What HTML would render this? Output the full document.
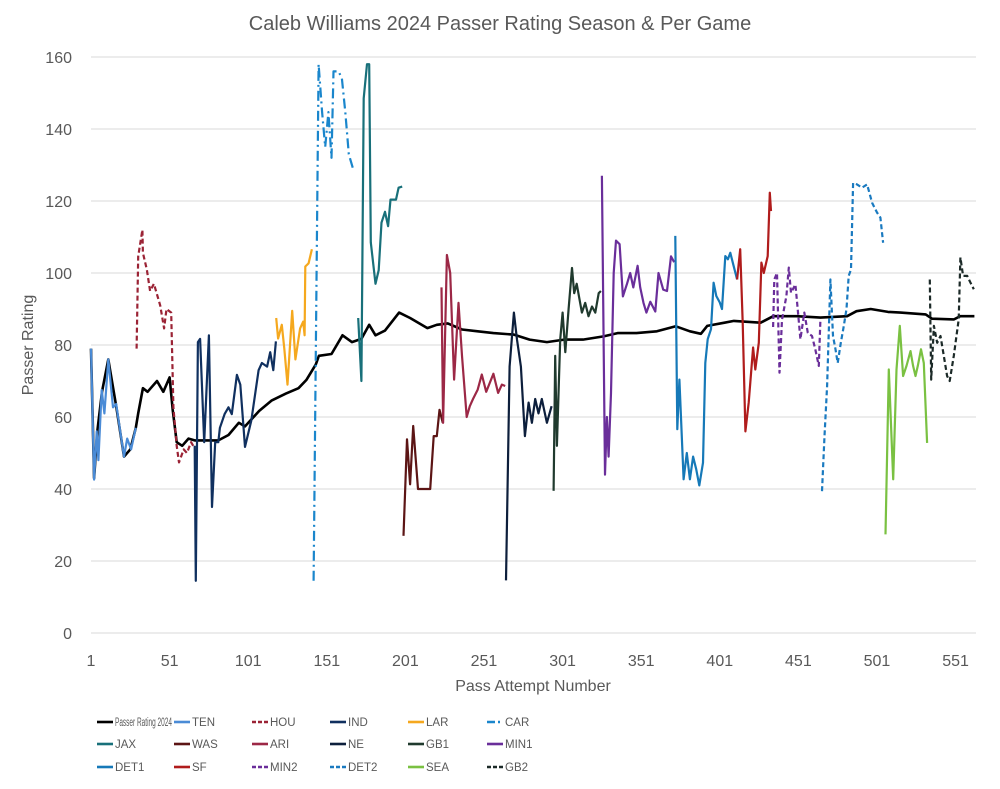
<!DOCTYPE html>
<html><head><meta charset="utf-8">
<style>
html,body{margin:0;padding:0;background:#fff;}
body{width:1000px;height:784px;overflow:hidden;font-family:"Liberation Sans",sans-serif;}
svg text{font-family:"Liberation Sans",sans-serif;}
</style></head>
<body>
<svg id="chart" width="1000" height="784" viewBox="0 0 1000 784" xmlns="http://www.w3.org/2000/svg">
<rect x="0" y="0" width="1000" height="784" fill="#fff"/>
<text x="500" y="30" text-anchor="middle" font-size="20" fill="#595959">Caleb Williams 2024 Passer Rating Season &amp; Per Game</text>
<g id="grid"></g>
<g id="yticks"></g>
<g id="xticks"></g>
<g id="series"></g>
<g id="legend"></g>
<text transform="translate(33,345) rotate(-90)" text-anchor="middle" font-size="16" fill="#595959">Passer Rating</text>
<text x="533" y="691" text-anchor="middle" font-size="16" fill="#595959">Pass Attempt Number</text>
</svg>
<script>
const xTicks = [1,51,101,151,201,251,301,351,401,451,501,551];
const yTicks = [0,20,40,60,80,100,120,140,160];
const seriesNames = ["Passer Rating 2024","TEN","HOU","IND","LAR","CAR","JAX","WAS","ARI","NE","GB1","MIN1","DET1","SF","MIN2","DET2","SEA","GB2"];

const SEASON_n = [1,3,5,8,12,17,22,26,29.5,31,34,37,39,43,47,51,53,55.5,59,63,67,74,82,88.5,95,99,108,116,125,133,138,144,146,154,161,167,173,178,182,188,197,204,215,221,228,237,247,257,270,280,291,302,314,327,336,348,361,373,382,389,393,404,410,427,435,450,465,482,488,497,508,516,532,536,550,554,563];
const SEASON_v = [79,43,56,67,76,63,49,51,57,61,68,67,68,70,67,71,62,53,52,54,53.5,53.5,53.5,55,58.4,57.4,61.7,64.6,66.5,68,70.3,74.6,77,77.5,82.7,80.8,81.7,85.6,82.7,84,89,87.5,84.7,85.6,86,84.3,83.8,83.3,82.9,81.5,80.8,81.5,81.5,82.4,83.3,83.3,83.8,85.2,83.8,83.1,85.3,86.2,86.7,86.2,88,88,87.6,88,89.4,90,89.2,89,88.5,87.3,87.1,88,88];

const TEN_n = [1,3,4.6,5.7,7.8,9.5,12,15,17,22,24,26.5,29.5];
const TEN_v = [79,42.6,56,48,67.5,61,76,62.7,63.6,49,54,51,57];
const HOU_n = [30,31,33.7,34,36.5,38.6,41,45,47.5,49,52,53.4,55.5,57,60,62,64.7,66];
const HOU_v = [79,104.6,112,105.6,101,95,97,91,84.6,90,89,62.7,52,47.4,51,50,53,52];
const IND_n = [67,67.7,69,70.4,73,76,78,80,82,83,86,88.5,90.6,92,93.8,96,99,103,107.6,109.7,113,115,117,118.6];
const IND_v = [52,14.5,80.8,81.7,53,82.7,35,53,53,57,60.8,62.7,60.8,65.5,71.7,69,51.7,59,73,75,74,78,73,81];
const LAR_n = [118.8,120,122.4,124,126,129,131,134,136,136.9,137.3,139.4,141.5];
const LAR_v = [87.5,81.8,85.6,79,69,89.5,76,84.6,86.5,82.7,101.8,102.7,106.6];
const CAR_n = [142.6,145.8,148,150,152,154,155.3,158.5,160.6,162.8,165,168];
const CAR_v = [14.5,158,144.7,135,144.7,132,156,156,154,144.7,133,128.5];
const JAX_n = [171,173,174.5,176.6,178,179,182,184,185.8,188,190,191.5,195,196.7,199];
const JAX_v = [87.5,70,148.5,158,158,108.5,97,100.8,114,117,113,120.4,120.4,123.7,124];
const WAS_n = [199.8,202,204,206,209,216.8,219,221,222.7,224.8];
const WAS_v = [27,53.8,41.3,57.5,40,40,54.7,54.7,62,58.4];
const ARI_n = [224,225,227.4,229.5,232,234.8,237,240,242,244,247,249.6,252.4,257,260,262.4,264.5];
const ARI_v = [96,58.4,105,100,70.4,91.7,77,60,63,65,67.6,71.8,67,72,66.7,69,68.6];
const NE_n = [265,267.3,270,272,274.5,277,279.4,281.5,283.6,285.7,287.8,291,294];
const NE_v = [14.6,74,89,81.5,74,54.7,64,58.4,65,61,65,58.4,63];
const GB1_n = [295.3,296.3,297.4,299.5,301,302.7,304.8,307,308.4,310,313.3,315.4,317.5,319.7,321.8,324,325.4];
const GB1_v = [39.5,77,52,81.5,89,78,90,101.4,94.4,97,89,91.7,88,90.7,89,94.4,95];
const MIN1_n = [326,328,329.2,330.3,331.8,333.5,335,337.3,339.4,342,344,346,348.7,350.4,352.5,354.3,356.8,360,362,365,367.4,370,372];
const MIN1_v = [127,44,60,49,66.7,100,109,108,93.5,97,100,96,102,96,91.7,89,92,89.3,100,95.4,95,104.6,103];
const DET1_n = [372.7,374,375.3,378,380,382,384,386,388,390.3,391.8,393.3,395.4,397.1,398.8,401,402.4,404.5,406.2,407.7,409.8,412];
const DET1_v = [110.3,56.6,70.4,42.7,50,42.7,49,45.5,41,47.3,75,81.6,84.4,97.3,93.6,91.8,90,104.7,103.8,105.6,102,98.2];
const SF_n = [412,414,415.6,417.3,419.4,422.2,423.6,425.8,427.5,429,431.5,432.8,433.6];
const SF_v = [98.2,106.6,86.2,56,64,79.3,73.2,80.6,102.9,100,104.7,122.3,117.2];
const MIN2_n = [434.9,435.7,437.4,439,440.6,443.4,444.9,446.3,449.1,450.6,452.3,454.8,457,459.7,461.8,464,465];
const MIN2_v = [85,98.2,100,72.3,87,93.6,101.5,94.5,96.8,90,81.6,89,83.4,82.5,78.8,74.2,87];
const DET2_n = [466,467.6,469.3,471.4,473,474.6,476,478,479.9,481.6,483,484.5,485.8,488.3,491.5,494.7,497.9,501,503.2,504.9];
const DET2_v = [39.4,54.7,68.6,98.2,82.5,78.8,75,80.6,85.3,90,99.2,101,125,124.6,123.7,124.6,119.5,116.8,115.4,108.4];
const SEA_n = [506.4,508.5,511.3,513.4,515.5,517.6,519.8,522.3,524,525.5,527,529,530.8,532.9];
const SEA_v = [27.4,73.2,42.7,73.2,85.3,71.4,74.2,78.3,74.2,71.4,74.2,78.8,75,52.8];
const GB2_n = [534.6,535.5,537.2,539.3,541.4,543.5,545.6,547.3,549.9,553,554.1,555.8,558.4,560.5,562.6];
const GB2_v = [98.2,70.4,85.3,80.6,82.5,77,71.4,70,77,87.1,104.3,99.2,99.2,97.3,95.5];

const NS="http://www.w3.org/2000/svg";
const X0=91, X1=976, NMIN=1, NMAX=564, Y0=633, Y1=57, VMAX=160;
function xs(n){return X0+(n-NMIN)/(NMAX-NMIN)*(X1-X0);}
function ys(v){return Y0-v/VMAX*(Y0-Y1);}
function mk(tag,attrs,parent){const e=document.createElementNS(NS,tag);for(const k in attrs)e.setAttribute(k,attrs[k]);parent.appendChild(e);return e;}

const grid=document.getElementById('grid'), yt=document.getElementById('yticks'), xt=document.getElementById('xticks');
yTicks.forEach(v=>{
  const l=mk('line',{x1:X0,x2:X1,y1:ys(v),y2:ys(v),stroke:'#d9d9d9','stroke-width':1},grid);
  
  
  const t=mk('text',{x:72,y:ys(v)+6,'text-anchor':'end','font-size':16,fill:'#595959'},yt);
  t.textContent=v;
  
  
});
xTicks.forEach(n=>{
  const t=mk('text',{x:xs(n),y:666,'text-anchor':'middle','font-size':16,fill:'#595959'},xt);
  t.textContent=n;
  
  
});

const styles = [
 {n:SEASON_n,v:SEASON_v,c:'#000000',d:'',w:2.6},
 {n:TEN_n,v:TEN_v,c:'#4a8bd6',d:'',w:2.2},
 {n:HOU_n,v:HOU_v,c:'#9b2335',d:'5,3',w:2.2},
 {n:IND_n,v:IND_v,c:'#10305f',d:'',w:2.2},
 {n:LAR_n,v:LAR_v,c:'#f5a81e',d:'',w:2.2},
 {n:CAR_n,v:CAR_v,c:'#1a86cc',d:'10,4,2,4',w:2.2},
 {n:JAX_n,v:JAX_v,c:'#18707a',d:'',w:2.2},
 {n:WAS_n,v:WAS_v,c:'#5c1515',d:'',w:2.2},
 {n:ARI_n,v:ARI_v,c:'#9c2846',d:'',w:2.2},
 {n:NE_n,v:NE_v,c:'#0d1f3c',d:'',w:2.2},
 {n:GB1_n,v:GB1_v,c:'#203a2e',d:'',w:2.2},
 {n:MIN1_n,v:MIN1_v,c:'#6a2e9a',d:'',w:2.2},
 {n:DET1_n,v:DET1_v,c:'#1679b8',d:'',w:2.2},
 {n:SF_n,v:SF_v,c:'#b01c1c',d:'',w:2.2},
 {n:MIN2_n,v:MIN2_v,c:'#6a2e9a',d:'5,3',w:2.2},
 {n:DET2_n,v:DET2_v,c:'#1a7ac0',d:'5,3',w:2.2},
 {n:SEA_n,v:SEA_v,c:'#7ac142',d:'',w:2.2},
 {n:GB2_n,v:GB2_v,c:'#1c2a28',d:'5,3',w:2.2}
];
const sg=document.getElementById('series');
styles.forEach((s,i)=>{
  const pts=s.n.map((n,k)=>xs(n).toFixed(1)+','+ys(s.v[k]).toFixed(1)).join(' ');
  const p=mk('polyline',{points:pts,fill:'none',stroke:s.c,'stroke-width':s.w,'stroke-linejoin':'round'},sg);
  if(s.d)p.setAttribute('stroke-dasharray',s.d);
  
  
});

const lg=document.getElementById('legend');
const colX=[97,174,252,330,408,487], rowY=[722,744,767];
styles.forEach((s,i)=>{
  const col=i%6,row=Math.floor(i/6);
  const x=colX[col],y=rowY[row];
  const g=mk('g',{},lg);
  
  
  const l=mk('line',{x1:x,x2:x+16,y1:y,y2:y,stroke:s.c,'stroke-width':2.6},g);
  if(s.d)l.setAttribute('stroke-dasharray',s.d==='10,4,2,4'?'8,3,2,3':'4,2');
  const t=mk('text',{x:x+18,y:y+4,'font-size':11.5,fill:'#595959'},g);
  if(i===0){t.setAttribute('textLength','57');t.setAttribute('lengthAdjust','spacingAndGlyphs');}
  t.textContent=seriesNames[i];
});
</script>
</body></html>
